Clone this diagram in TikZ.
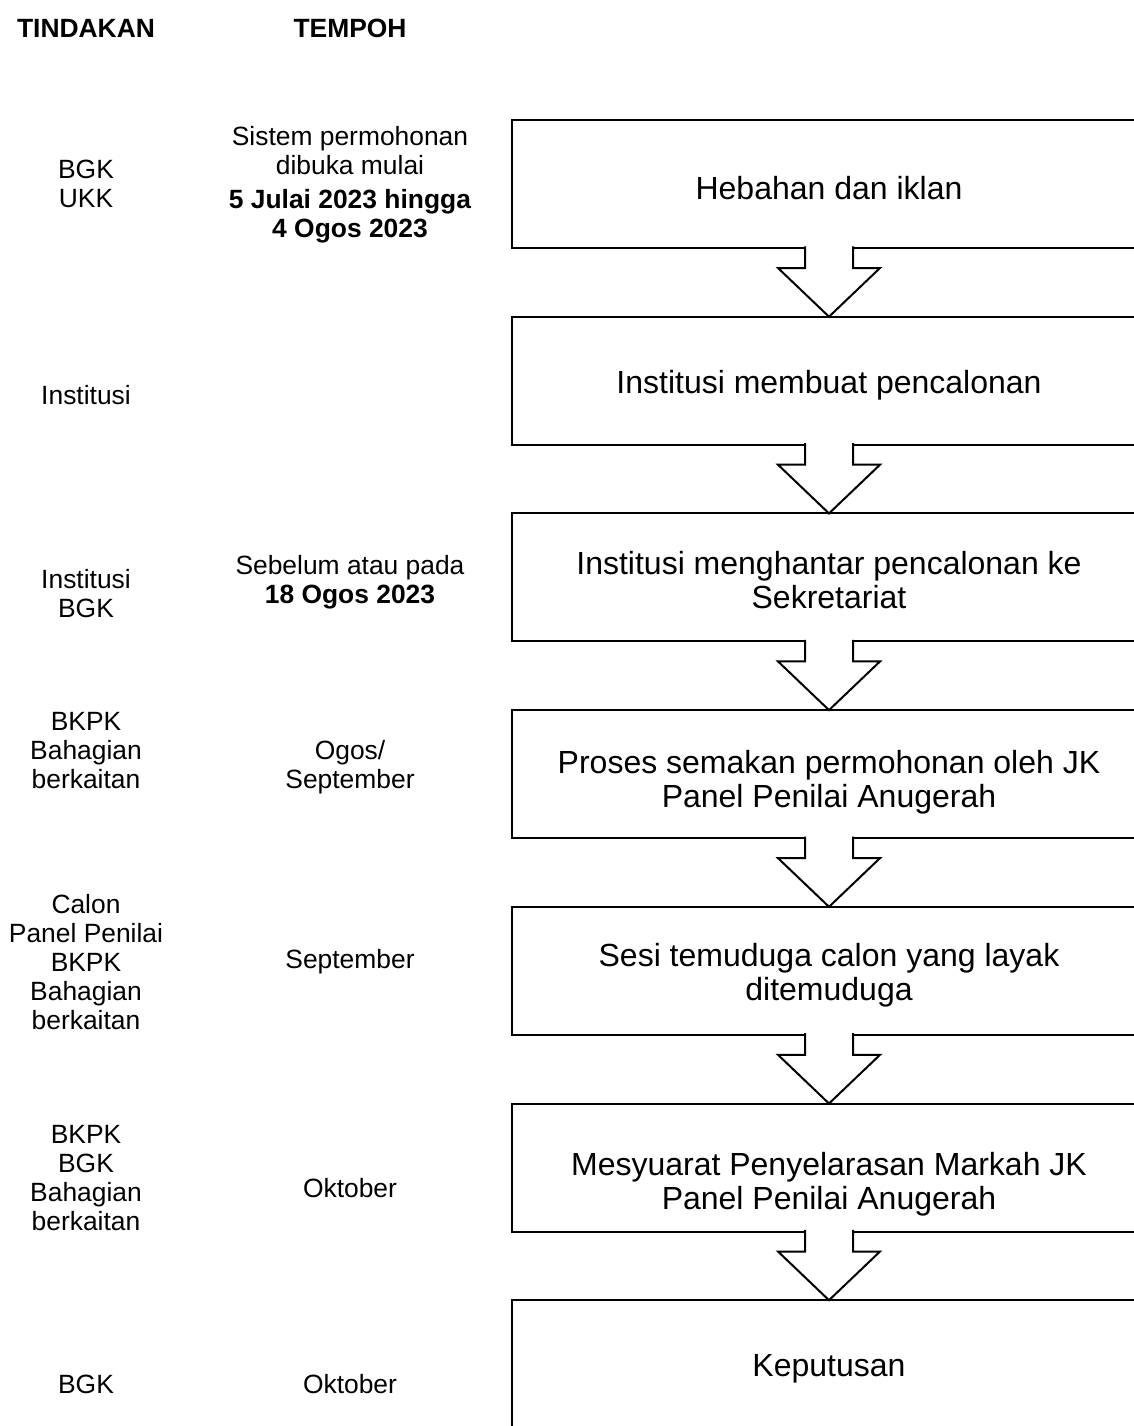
\documentclass[tikz,border=0pt]{standalone}
\usepackage{fontspec}
\setmainfont{Liberation Sans}
\usetikzlibrary{positioning,calc}

\begin{document}
\begin{tikzpicture}[x=0.5pt, y=-0.5pt,
		node distance=33.35pt,
		stage/.style={draw, line width=1pt, minimum width=317pt, minimum height=64pt,
			align=center, text height=15.7pt, font=\fontsize{16}{17}\selectfont},
		sidetext/.style={align=center, font=\fontsize{13.2}{14.5}\selectfont},
		headtext/.style={font=\fontsize{13.2}{14.5}\selectfont\bfseries},
		flowarrow/.style={draw, line width=1pt, fill=white}]
	\clip (0,0) rectangle (1134,1426);

	% headings
	\node[headtext] (hwho) at (86,28) {TINDAKAN};
	\node[headtext] (hwhen) at (350,28) {TEMPOH};

	% process boxes
	\node[stage] (s1) at (829,184) {Hebahan dan iklan};
	\node[stage, below=of s1] (s2) {Institusi membuat pencalonan};
	\node[stage, below=of s2, text height=31.7pt] (s3) {Institusi menghantar pencalonan ke\\Sekretariat};
	\node[stage, below=of s3, text height=36.7pt] (s4) {Proses semakan permohonan oleh JK\\Panel Penilai Anugerah};
	\node[stage, below=of s4, text height=33.2pt] (s5) {Sesi temuduga calon yang layak\\ditemuduga};
	\node[stage, below=of s5, text height=45.7pt] (s6) {Mesyuarat Penyelarasan Markah JK\\Panel Penilai Anugerah};
	\node[stage, below=of s6] (s7) {Keputusan};

	% block arrows between boxes
	\foreach \a/\b in {s1/s2, s2/s3, s3/s4, s4/s5, s5/s6, s6/s7}
		\draw[flowarrow] ($(\a.south)+(-24,-2.6)$) -- ++(0,21.6) -- ++(-27,0)
			-- ($(\b.north)+(0,1)$) -- ($(\a.south)+(51,19)$) -- ++(-27,0) -- ++(0,-21.6);

	% who
	\node[sidetext] (w1) at (86,184) {BGK\\UKK};
	\node[sidetext] (w2) at (86,395) {Institusi};
	\node[sidetext] (w3) at (86,594) {Institusi\\BGK};
	\node[sidetext] (w4) at (86,751) {BKPK\\Bahagian\\berkaitan};
	\node[sidetext] (w5) at (86,962) {Calon\\Panel Penilai\\BKPK\\Bahagian\\berkaitan};
	\node[sidetext] (w6) at (86,1178) {BKPK\\BGK\\Bahagian\\berkaitan};
	\node[sidetext] (w7) at (86,1384) {BGK};

	% when
	\node[sidetext] (t1) at (350,185) {Sistem permohonan\\dibuka mulai\\[2.5pt]\textbf{5 Julai 2023 hingga}\\\textbf{4 Ogos 2023}};
	\node[sidetext] (t3) at (350,582) {Sebelum atau pada\\\textbf{18 Ogos 2023}};
	\node[sidetext] (t4) at (350,767) {Ogos/\\September};
	\node[sidetext] (t5) at (350,962) {September};
	\node[sidetext] (t6) at (350,1188) {Oktober};
	\node[sidetext] (t7) at (350,1384) {Oktober};
\end{tikzpicture}
\end{document}
